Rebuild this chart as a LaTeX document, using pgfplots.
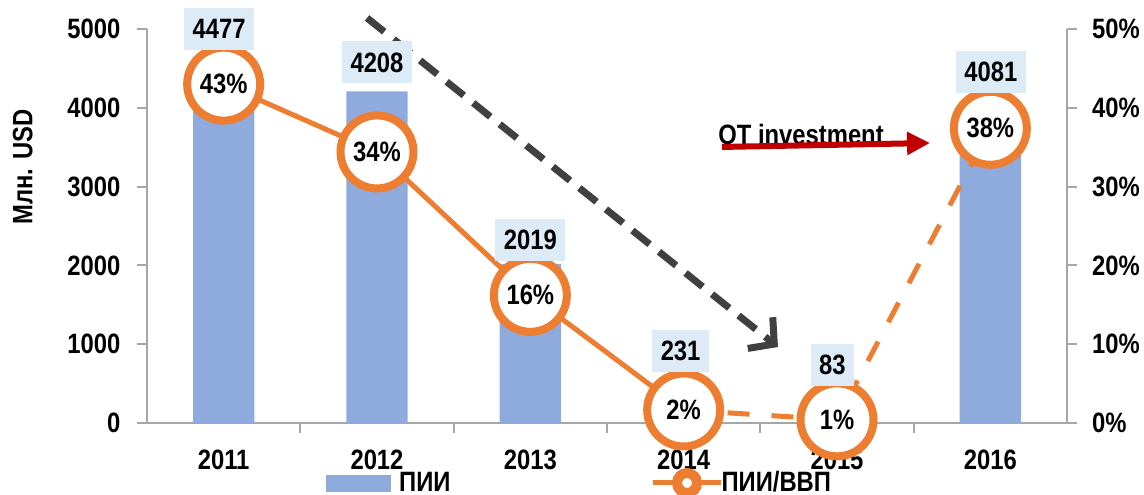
\documentclass[border=0pt]{standalone}
\usepackage{fontspec}
\setmainfont{Liberation Sans}[FakeStretch=0.85]
\usepackage{pgfplots}
\usepackage{pgfplotstable}
\pgfplotsset{compat=1.18}
\usetikzlibrary{arrows.meta}

\definecolor{barblue}{HTML}{8FAADC}
\definecolor{lineorange}{HTML}{ED7D31}
\definecolor{boxblue}{HTML}{DDEBF7}
\definecolor{axgray}{HTML}{A6A6A6}
\definecolor{arrowgray}{HTML}{404040}
\definecolor{arrowred}{HTML}{C00000}

\pgfplotstableread{
x val pct lbl
0 4477 43.0 43
1 4208 34.4 34
2 2019 16.2 16
3 231 1.65 2
4 83 0.4 1
5 4081 37.4 38
}\datatable

\newcommand{\fnt}{\fontsize{14pt}{16pt}\selectfont\bfseries}
\tikzset{lbox/.style={fill=boxblue, inner xsep=4.3pt, inner ysep=0pt, minimum height=21pt, font=\fnt, text=black}}

\begin{document}
\begin{tikzpicture}[font=\fnt]
\begin{axis}[
  name=left,
  scale only axis, width=460pt, height=197pt,
  xmin=-0.5, xmax=5.5, ymin=0, ymax=5000,
  axis x line*=bottom, axis y line*=left,
  axis line style={axgray, line width=1pt},
  tick align=outside,
  major tick length=5pt, minor tick length=5pt,
  tick style={axgray, line width=1pt},
  xtick={0,...,5}, xticklabels={2011,2012,2013,2014,2015,2016},
  major x tick style={draw=none},
  minor xtick={0.5,1.5,2.5,3.5,4.5},
  ytick={0,1000,2000,3000,4000,5000},
  yticklabels={0,1000,2000,3000,4000,5000},
  ticklabel style={font=\fnt},
  yticklabel style={xshift=-4.8pt},
  xticklabel style={yshift=-5pt},
  ylabel={Млн. USD},
  ylabel style={font=\fnt, at={(rel axis cs:-0.135,0.65)}, anchor=center},
  clip=false,
]
\addplot[ybar, bar width=0.4, fill=barblue, draw=none] table[x=x,y=val]{\datatable};
\draw[arrowgray, line width=3.5pt, dash pattern=on 11pt off 6pt, -{Straight Barb[length=9pt, width=20pt]}] (axis cs:0.935,5140) -- (axis cs:3.615,964);
\node[anchor=base west, font=\fnt, inner sep=0pt] at (axis cs:3.224,3528) {OT investment};
\draw[arrowred, line width=3pt, -{Triangle[length=11.5pt,width=11pt]}] (axis cs:3.25,3503) -- (axis cs:4.607,3553);
\end{axis}

\begin{axis}[
  scale only axis, width=460pt, height=197pt,
  xmin=-0.5, xmax=5.5, ymin=0, ymax=50,
  axis x line=none, axis y line*=right,
  axis line style={axgray, line width=1pt},
  tick align=outside, major tick length=5pt,
  tick style={axgray, line width=1pt},
  ytick={0,10,20,30,40,50},
  yticklabels={0\%,10\%,20\%,30\%,40\%,50\%},
  ticklabel style={font=\fnt},
  yticklabel style={xshift=4pt},
  clip=false,
  legend columns=2,
  legend style={draw=none, fill=none, at={(rel axis cs:0.1946,-0.1523)}, anchor=west, font=\fnt, inner sep=0pt,
    nodes={inner sep=0pt},
    /tikz/column 1/.style={column sep=4pt},
    /tikz/column 2/.style={column sep=100pt},
    /tikz/column 3/.style={column sep=-1pt}},
]
\addlegendimage{legend image code/.code={\fill[barblue] (0pt,-4pt) rectangle (32pt,4pt);}}
\addlegendimage{legend image code/.code={\draw[lineorange, line width=2.5pt] (0pt,0pt) -- (34pt,0pt); \draw[lineorange, line width=5pt, fill=white] (17pt,0pt) circle (5pt);}}
\legend{ПИИ, ПИИ/ВВП}
\addplot[lineorange, line width=2.5pt, forget plot, restrict x to domain=0:3] table[x=x,y=pct]{\datatable};
\addplot[lineorange, line width=2.5pt, dash pattern=on 11pt off 11pt, forget plot, restrict x to domain=3:5] table[x=x,y=pct]{\datatable};
\addplot[only marks, mark=*, mark size=18.25pt, mark options={fill=white, draw=lineorange, line width=4pt}, forget plot,
  point meta=explicit symbolic, nodes near coords={\pgfplotspointmeta\%},
  every node near coord/.append style={anchor=center, font=\fnt, text=black}] table[x=x, y=pct, meta=lbl]{\datatable};
\coordinate (L1) at (axis cs:-0.03,50);
\coordinate (L2) at (axis cs:1,45.75);
\coordinate (L3) at (axis cs:2,23.22);
\coordinate (L4) at (axis cs:2.98,9.14);
\coordinate (L5) at (axis cs:3.97,7.36);
\coordinate (L6) at (axis cs:5.003,44.54);
\end{axis}
\node[lbox] at (L1) {4477};
\node[lbox] at (L2) {4208};
\node[lbox] at (L3) {2019};
\node[lbox] at (L4) {231};
\node[lbox] at (L5) {83};
\node[lbox] at (L6) {4081};
\pgfresetboundingbox
\path ([shift={(-73.5pt,-36pt)}]left.south west) rectangle ([shift={(38.5pt,14.5pt)}]left.north east);
\end{tikzpicture}
\end{document}
